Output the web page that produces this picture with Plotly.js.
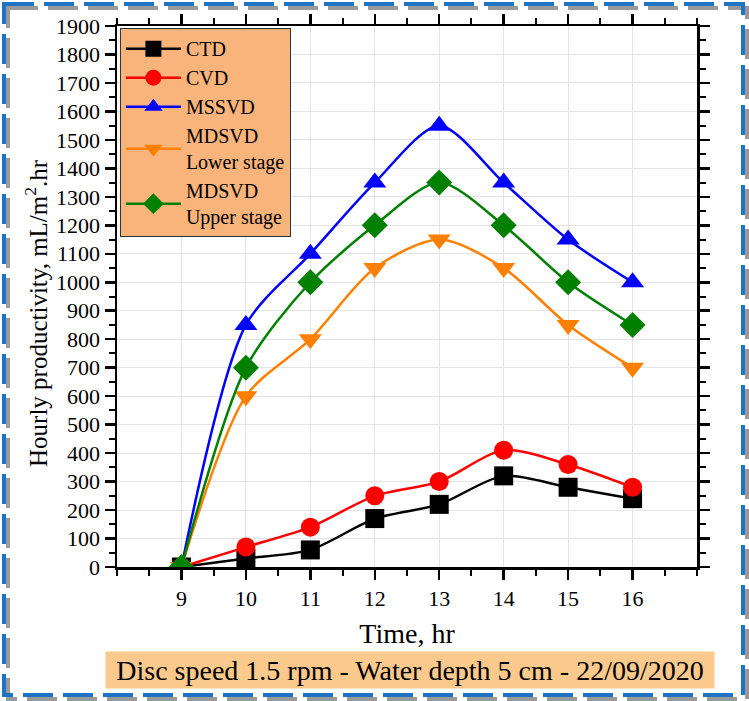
<!DOCTYPE html>
<html>
<head>
<meta charset="utf-8">
<script src="https://cdn.plot.ly/plotly-3.0.1.min.js"></script>
<style>
html,body{margin:0;padding:0;background:#fff;}
#chart{width:749px;height:701px;}
</style>
</head>
<body>
<div id="chart"></div>
<script>
const hours = [9, 10, 11, 12, 13, 14, 15, 16];
const ctd = [0, 30, 60, 170, 220, 320, 280, 240];
const cvd = [0, 70, 140, 250, 300, 410, 360, 280];
const mssvd = [0, 850, 1100, 1350, 1550, 1350, 1150, 1000];
const mdsvdLower = [0, 600, 800, 1050, 1150, 1050, 850, 700];
const mdsvdUpper = [0, 700, 1000, 1200, 1350, 1200, 1000, 850];
const xTickVals = [9, 10, 11, 12, 13, 14, 15, 16];
const xTickText = ['9', '10', '11', '12', '13', '14', '15', '16'];

function tr(name, y, color, symbol, size) {
  return {
    x: hours, y: y, name: name, type: 'scatter', mode: 'lines+markers',
    line: {color: color, width: 2.5, shape: 'spline', smoothing: 0.8},
    marker: {color: color, symbol: symbol, size: size, line: {width: 0}}
  };
}
const data = [
  tr('CTD', ctd, '#000000', 'square', 19),
  tr('CVD', cvd, '#FF0000', 'circle', 19),
  tr('MSSVD', mssvd, '#0000FF', 'triangle-up', 20),
  tr('MDSVD<br>Lower stage', mdsvdLower, '#FF8000', 'triangle-down', 20),
  tr('MDSVD<br>Upper stage', mdsvdUpper, '#008000', 'diamond', 20)
];

const serif = 'Liberation Serif, Times New Roman, serif';
// pixel -> paper helpers for frame decoration
const L = 117, R = 697, T = 26, B = 567;
const px = p => (p - L) / (R - L);
const py = p => (B - p) / (B - T);

const layout = {
  width: 749, height: 701,
  margin: {l: L, r: 749 - R, t: T, b: 701 - B},
  paper_bgcolor: '#ffffff', plot_bgcolor: '#ffffff',
  font: {family: serif, color: '#000', size: 22},
  showlegend: true,
  legend: {
    x: 0.005, y: 0.996, xanchor: 'left', yanchor: 'top',
    bgcolor: '#F9B47C', bordercolor: '#333', borderwidth: 1,
    font: {family: serif, size: 20, color: '#000'},
    itemwidth: 55, tracegroupgap: 0
  },
  xaxis: {
    range: [8, 17], tickmode: 'array', tickvals: xTickVals, ticktext: xTickText,
    ticks: 'outside', ticklen: 10, tickwidth: 2.5, tickcolor: '#000',
    minor: {dtick: 0.5, tick0: 8, ticks: 'outside', ticklen: 6, tickwidth: 2, tickcolor: '#000', showgrid: false},
    showline: true, linewidth: 2.5, linecolor: '#000', mirror: 'ticks',
    showgrid: true, gridcolor: '#E4E4E4', gridwidth: 1, zeroline: false,
    tickfont: {family: serif, size: 22},
    title: {text: 'Time, hr', font: {family: serif, size: 28}, standoff: 14}
  },
  yaxis: {
    range: [0, 1900], tickmode: 'linear', tick0: 0, dtick: 100,
    ticks: 'outside', ticklen: 10, tickwidth: 2.5, tickcolor: '#000',
    minor: {dtick: 50, ticks: 'outside', ticklen: 6, tickwidth: 2, tickcolor: '#000', showgrid: false},
    showline: true, linewidth: 2.5, linecolor: '#000', mirror: 'ticks',
    showgrid: true, gridcolor: '#E4E4E4', gridwidth: 1, zeroline: false,
    tickfont: {family: serif, size: 22}
  },
  shapes: [
    {type: 'rect', xref: 'paper', yref: 'paper', layer: 'below',
     x0: px(8), x1: px(747), y0: py(8), y1: py(699),
     line: {color: '#9A9A9A', width: 4, dash: '30px,10px'}},
    {type: 'rect', xref: 'paper', yref: 'paper', layer: 'below',
     x0: px(4), x1: px(743), y0: py(4), y1: py(695),
     line: {color: '#1E74C4', width: 4, dash: '30px,10px'}}
  ],
  annotations: [
    {xref: 'paper', yref: 'paper', x: px(36), y: py(313), xanchor: 'center', yanchor: 'middle',
     textangle: -90, showarrow: false,
     text: 'Hourly productivity, mL/m<sup>2</sup>.hr',
     font: {family: serif, size: 25, color: '#000'}},
    {xref: 'paper', yref: 'paper', x: px(410), y: py(670), xanchor: 'center', yanchor: 'middle',
     text: 'Disc speed 1.5 rpm - Water depth 5 cm - 22/09/2020', showarrow: false,
     font: {family: serif, size: 28, color: '#000'}, bgcolor: '#FCC98C',
     width: 606, height: 34, borderpad: 1}
  ]
};

Plotly.newPlot('chart', data, layout, {displayModeBar: false, staticPlot: true});
</script>
</body>
</html>
